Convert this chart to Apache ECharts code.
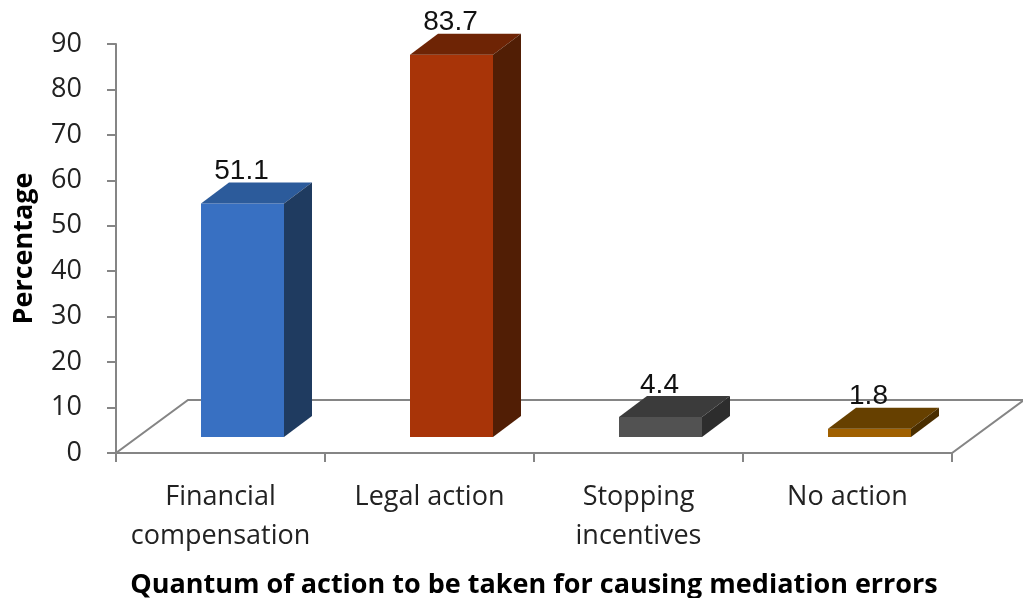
<!DOCTYPE html>
<html>
<head>
<meta charset="utf-8">
<script src="https://cdn.jsdelivr.net/npm/echarts@6/dist/echarts.min.js"></script>
<style>html,body{margin:0;padding:0;background:#fff}#c{width:1023px;height:598px}</style>
</head>
<body>
<div id="c"></div>
<script>
var categories = ['Financial\ncompensation', 'Legal action', 'Stopping\nincentives', 'No action'];
var values = [51.1, 83.7, 4.4, 1.8];
var yTicks = [0, 10, 20, 30, 40, 50, 60, 70, 80, 90];

var faceColors = [
  {front: '#3870C2', top: '#2C5B9B', side: '#1F3B60'},
  {front: '#A83408', top: '#6E2405', side: '#511E05'},
  {front: '#525252', top: '#3B3B3B', side: '#2D2D2D'},
  {front: '#A06000', top: '#664000', side: '#4A2E00'}
];

var chart = echarts.init(document.getElementById('c'), null, {renderer: 'canvas'});
var axisGray = '#858585';

function renderFloor(params, api) {
  var n = categories.length;
  var bw = api.size([1, 0])[0];
  var a = api.coord([0, 0]);
  var b = api.coord([n - 1, 0]);
  var l = a[0] - bw / 2, r = b[0] + bw / 2, y = a[1];
  var dx = 72, dy = -53;
  return {
    type: 'polygon',
    shape: {points: [[l, y], [r, y], [r + dx, y + dy], [l + dx, y + dy]]},
    style: {fill: '#ffffff', stroke: axisGray, lineWidth: 2},
    silent: true
  };
}

function renderBar(params, api) {
  var idx = api.value(0);
  var v = api.value(1);
  var c0 = api.coord([idx, 0]);
  var c1 = api.coord([idx, v]);
  var shiftX = 22, shiftY = -16;
  var hw = 41.5, dx = 28, dy = -21;
  var cx = c0[0] + shiftX;
  var base = c0[1] + shiftY;
  var top = base - (c0[1] - c1[1]) * 1.005;
  var col = faceColors[idx];
  return {
    type: 'group',
    children: [
      {type: 'polygon', shape: {points: [[cx - hw, top], [cx + hw, top], [cx + hw, base], [cx - hw, base]]}, style: {fill: col.front}},
      {type: 'polygon', shape: {points: [[cx - hw, top], [cx - hw + dx, top + dy], [cx + hw + dx, top + dy], [cx + hw, top]]}, style: {fill: col.top}},
      {type: 'polygon', shape: {points: [[cx + hw, top], [cx + hw + dx, top + dy], [cx + hw + dx, base + dy], [cx + hw, base]]}, style: {fill: col.side}},
      {type: 'text', x: cx - 1, y: top + dy + 3, style: {text: String(values[idx]), align: 'center', verticalAlign: 'bottom', fill: '#111', fontSize: 28, fontFamily: 'Liberation Sans'}}
    ]
  };
}

chart.setOption({
  animation: false,
  backgroundColor: '#ffffff',
  grid: {left: 116, right: 71, top: 44, bottom: 145, containLabel: false, outerBoundsMode: 'none'},
  xAxis: {
    type: 'category',
    data: categories,
    boundaryGap: true,
    name: 'Quantum of action to be taken for causing mediation errors',
    nameLocation: 'middle',
    nameGap: 119,
    nameTextStyle: {fontFamily: 'Open Sans', fontWeight: 'bold', fontSize: 27, color: '#000'},
    axisLine: {show: true, lineStyle: {color: axisGray, width: 2}},
    axisTick: {show: true, interval: 0, length: 9, lineStyle: {color: axisGray, width: 2}},
    axisLabel: {interval: 0, margin: 25, fontFamily: 'Open Sans', fontSize: 27, lineHeight: 39, color: '#222'},
    splitLine: {show: false}
  },
  yAxis: {
    type: 'value',
    min: 0, max: 90, interval: 10,
    name: 'Percentage',
    nameLocation: 'middle',
    nameGap: 78,
    nameTextStyle: {fontFamily: 'Open Sans', fontWeight: 'bold', fontSize: 27, color: '#000'},
    axisLine: {show: true, lineStyle: {color: axisGray, width: 2}},
    axisTick: {show: true, length: 9, lineStyle: {color: axisGray, width: 2}},
    axisLabel: {margin: 34, fontFamily: 'Open Sans', fontSize: 27, color: '#222',
      formatter: function (v) { return yTicks.indexOf(v) >= 0 ? String(v) : ''; }},
    splitLine: {show: false}
  },
  series: [
    {type: 'custom', name: 'floor', renderItem: renderFloor, data: [[0, 0]], clip: false, z: 1, silent: true},
    {type: 'custom', name: 'Percentage', renderItem: renderBar, encode: {x: 0, y: 1},
     data: values.map(function (v, i) { return [i, v]; }), clip: false, z: 3}
  ]
});
</script>
</body>
</html>
